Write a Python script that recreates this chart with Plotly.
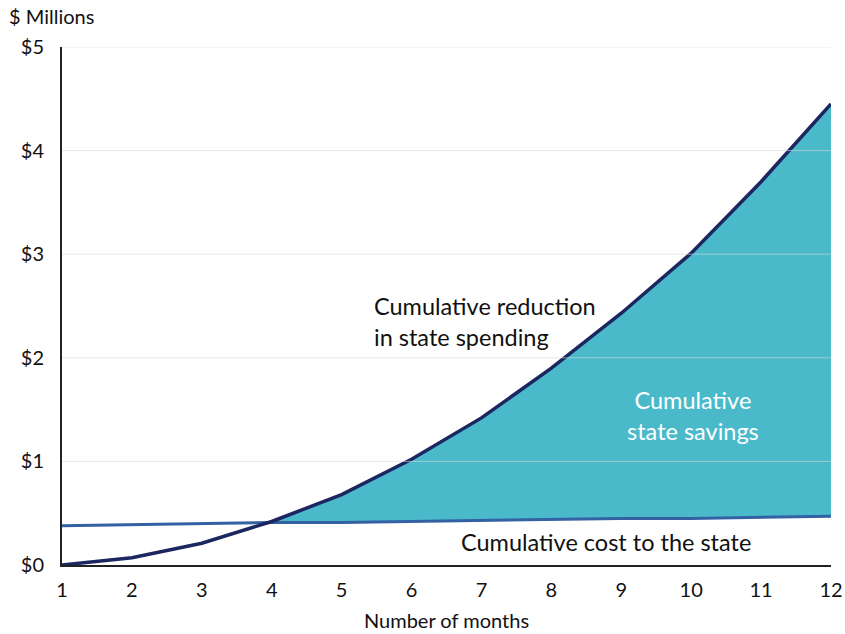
import plotly.graph_objects as go

# Monthly figures, $ millions
months = [1, 2, 3, 4, 5, 6, 7, 8, 9, 10, 11, 12]
reduction = [0.0, 0.07, 0.21, 0.42, 0.68, 1.02, 1.42, 1.90, 2.43, 3.01, 3.70, 4.45]
cost = [0.38, 0.39, 0.40, 0.41, 0.41, 0.42, 0.43, 0.44, 0.45, 0.45, 0.46, 0.47]

y_ticks = [0, 1, 2, 3, 4, 5]
y_tick_labels = ["$0", "$1", "$2", "$3", "$4", "$5"]

NAVY = "#1c2660"
BLUE = "#3461a3"
TEAL = "#4abacb"
FONT = "Lato, Open Sans, sans-serif"
INK = "#111111"

# Savings region: from the crossing of the two lines to the last month
cx, cy, start = None, None, None
for i in range(len(months) - 1):
    d0 = reduction[i] - cost[i]
    d1 = reduction[i + 1] - cost[i + 1]
    if d0 <= 0 < d1:
        t = -d0 / (d1 - d0)
        cx = months[i] + t * (months[i + 1] - months[i])
        cy = cost[i] + t * (cost[i + 1] - cost[i])
        start = i + 1
        break

poly_x = [cx] + months[start:] + months[start:][::-1] + [cx]
poly_y = [cy] + reduction[start:] + cost[start:][::-1] + [cy]

fig = go.Figure()
fig.add_trace(go.Scatter(x=poly_x, y=poly_y, fill="toself", fillcolor=TEAL,
                         mode="lines", line=dict(width=0), hoverinfo="skip"))
fig.add_trace(go.Scatter(x=months, y=cost, mode="lines",
                         line=dict(color=BLUE, width=3)))
fig.add_trace(go.Scatter(x=months, y=reduction, mode="lines",
                         line=dict(color=NAVY, width=3.5)))

# light gridlines drawn over the fill
for v in y_ticks[1:]:
    fig.add_shape(type="line", xref="paper", x0=0, x1=1, yref="y", y0=v, y1=v,
                  line=dict(color="rgba(215,215,215,0.6)", width=1), layer="above")


def label(x, y, text, color=INK, anchor="left"):
    fig.add_annotation(x=x, y=y, text=text, showarrow=False,
                       xanchor=anchor, yanchor="middle", borderpad=0,
                       align=anchor,
                       font=dict(family=FONT, size=23.5, color=color))


label(5.45, 2.355, "Cumulative reduction<br>in state spending")
label(10.03, 1.443, "Cumulative<br>state savings", "white", "center")
label(8.78, 0.22, "Cumulative cost to the state", anchor="center")

fig.add_annotation(xref="paper", yref="paper", x=-0.071, y=1.033,
                   text="$ Millions", showarrow=False, xanchor="left", yanchor="bottom",
                   font=dict(family=FONT, size=20, color=INK))

fig.update_layout(
    width=845, height=634,
    margin=dict(l=62, r=14, t=47, b=69),
    paper_bgcolor="white", plot_bgcolor="white",
    showlegend=False,
    font=dict(family=FONT, size=20, color=INK),
    xaxis=dict(range=[1, 12], tickmode="array", tickvals=months,
               showgrid=False, zeroline=False, showline=True,
               linecolor="#222222", linewidth=2, ticks="",
               ticklabelstandoff=6, automargin=False,
               title=dict(text="Number of months", font=dict(size=20), standoff=14)),
    yaxis=dict(range=[0, 5], tickmode="array", tickvals=y_ticks,
               ticktext=y_tick_labels, showgrid=False, zeroline=False,
               showline=True, linecolor="#222222", linewidth=2, ticks="",
               ticklabelstandoff=12, automargin=False),
)

fig.write_html("out.html")
